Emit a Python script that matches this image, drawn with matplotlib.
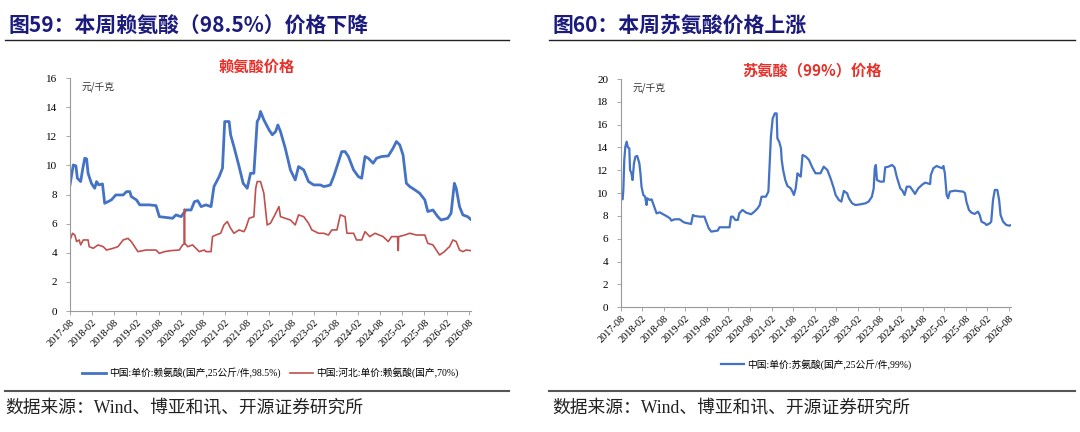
import matplotlib
matplotlib.use("Agg")
import matplotlib.pyplot as plt
from matplotlib.lines import Line2D

plt.rcParams['font.family'] = ['Noto Sans CJK SC', 'DejaVu Sans']

# x axis: months since 2017-08
tick_pos = list(range(0, 109, 6))
tick_labels = ['2017-08', '2018-02', '2018-08', '2019-02', '2019-08', '2020-02',
               '2020-08', '2021-02', '2021-08', '2022-02', '2022-08', '2023-02',
               '2023-08', '2024-02', '2024-08', '2025-02', '2025-08', '2026-02',
               '2026-08']

# 赖氨酸 98.5% (元/千克)
lys98_m = [0.0, 0.9, 1.6, 2.0, 2.9, 3.4, 4.0, 4.5, 4.9, 5.8, 6.7, 7.2, 7.8, 8.8,
           9.4, 10.3, 11.2, 12.4, 14.4, 15.3, 16.2, 16.6, 18.0, 18.9, 21.5, 23.3,
           24.2, 27.8, 28.7, 30.1, 31.4, 32.8, 33.7, 34.6, 35.5, 36.8, 38.2, 39.0,
           40.4, 41.3, 41.9, 43.1, 43.5, 44.4, 45.8, 46.9, 48.0, 48.9, 49.8, 50.7,
           51.2, 51.6, 52.5, 53.9, 54.8, 55.7, 56.3, 57.0, 58.3, 59.7, 61.0, 61.9,
           63.3, 64.6, 66.0, 67.8, 68.7, 69.6, 70.5, 71.4, 72.3, 73.6, 74.5, 75.4,
           76.8, 78.1, 79.0, 79.9, 80.8, 82.1, 83.0, 84.4, 86.2, 87.5, 88.4, 89.3,
           90.2, 91.1, 92.0, 93.4, 94.7, 96.1, 96.9, 98.3, 99.6, 100.5, 102.3,
           103.2, 104.1, 104.6, 105.5, 106.4, 107.7, 108.5]
lys98_v = [8.66, 10.03, 9.97, 9.12, 8.89, 9.69, 10.49, 10.45, 9.46, 8.77, 8.43,
           8.89, 8.66, 8.73, 7.40, 7.51, 7.63, 7.97, 7.97, 8.20, 8.20, 7.86, 7.63,
           7.29, 7.29, 7.24, 6.48, 6.37, 6.60, 6.48, 6.94, 6.94, 7.51, 7.58, 7.17,
           7.29, 7.17, 8.55, 9.23, 9.81, 13.01, 13.01, 12.10, 11.29, 9.92, 8.77,
           8.43, 9.46, 9.46, 13.01, 13.24, 13.70, 13.13, 12.44, 12.10, 12.33, 12.78,
           12.33, 11.18, 9.69, 9.00, 9.92, 9.69, 8.89, 8.66, 8.66, 8.55, 8.59, 8.66,
           9.23, 9.92, 10.95, 10.95, 10.61, 9.69, 9.23, 9.12, 10.61, 10.49, 10.15,
           10.49, 10.61, 10.65, 11.18, 11.64, 11.41, 10.72, 8.77, 8.55, 8.32, 8.09,
           7.63, 6.83, 6.94, 6.48, 6.25, 6.37, 6.71, 8.77, 8.43, 7.17, 6.60, 6.48,
           6.30]

# 赖氨酸 70% 河北 (元/千克)
lys70_m = [0.0, 0.7, 1.3, 1.8, 2.5, 2.9, 3.6, 4.9, 5.2, 6.3, 7.6, 9.0, 9.9, 11.7,
           13.0, 14.4, 15.7, 16.6, 18.4, 20.6, 23.3, 24.2, 25.6, 27.4, 29.6, 30.5,
           30.9, 31.0, 31.1, 31.9, 33.2, 34.1, 35.0, 36.4, 36.8, 38.2, 38.6, 39.5,
           40.8, 41.7, 42.6, 43.5, 44.4, 45.8, 47.1, 47.6, 48.5, 49.8, 50.3, 50.7,
           51.6, 52.5, 53.4, 54.3, 55.7, 56.6, 57.0, 58.3, 59.7, 61.0, 61.9, 63.3,
           64.6, 65.5, 67.3, 68.7, 70.0, 70.9, 72.3, 73.2, 74.5, 75.0, 76.8, 77.6,
           79.0, 79.9, 81.2, 82.6, 84.8, 86.2, 87.1, 88.7, 88.9, 89.0, 90.7, 92.0,
           93.8, 96.1, 96.9, 98.3, 99.2, 100.1, 101.4, 102.3, 102.8, 103.7, 104.6,
           105.5, 106.4, 107.3, 108.5]
lys70_v = [4.88, 5.34, 5.22, 4.77, 4.88, 4.54, 4.88, 4.88, 4.42, 4.31, 4.54, 4.42,
           4.19, 4.31, 4.42, 4.88, 4.99, 4.77, 4.08, 4.19, 4.19, 3.96, 4.08, 4.15,
           4.19, 4.54, 4.60, 7.00, 4.65, 4.42, 4.54, 4.31, 4.08, 4.19, 4.08, 4.08,
           5.11, 5.22, 5.34, 5.91, 6.14, 5.68, 5.34, 5.57, 5.45, 5.68, 6.37, 6.48,
           8.43, 8.89, 8.89, 8.09, 5.91, 6.03, 6.71, 7.17, 6.48, 6.37, 6.25, 5.91,
           6.60, 6.48, 6.03, 5.57, 5.34, 5.34, 5.22, 5.57, 5.57, 6.60, 6.48, 5.34,
           5.34, 4.88, 4.88, 5.45, 5.11, 5.34, 5.11, 4.77, 5.11, 5.11, 4.15, 5.11,
           5.22, 5.34, 5.22, 5.22, 4.65, 4.54, 4.19, 3.85, 4.08, 4.31, 4.42, 4.88,
           4.77, 4.19, 4.08, 4.19, 4.15]

# 苏氨酸 99% (元/千克)
thr_m = [0.0, 0.55, 0.74, 1.0, 1.3, 1.66, 2.0, 2.4, 2.6, 3.0, 3.3, 3.7, 4.1, 4.6,
         5.2, 5.5, 5.8, 6.3, 6.8, 7.2, 7.4, 8.1, 8.6, 9.0, 9.5, 10.0, 10.9, 11.8,
         12.7, 13.7, 14.1, 15.0, 16.4, 17.3, 17.8, 19.6, 20.1, 20.6, 22.0, 23.3,
         23.8, 24.5, 25.2, 27.0, 27.5, 30.3, 30.7, 31.2, 31.9, 32.6, 33.0, 33.9,
         34.9, 36.3, 37.2, 38.1, 38.7, 39.2, 40.4, 41.1, 41.5, 41.8, 42.3, 42.9,
         43.4, 43.6, 44.1, 44.6, 44.8, 45.2, 45.8, 46.4, 47.3, 47.8, 48.2, 48.7,
         49.2, 49.6, 50.1, 50.6, 51.5, 52.4, 53.3, 54.2, 55.6, 56.5, 57.5, 58.4,
         59.3, 59.8, 60.7, 61.4, 62.1, 63.0, 63.5, 64.4, 65.3, 66.7, 68.1, 69.0,
         69.9, 70.4, 70.7, 71.0, 71.3, 72.2, 73.2, 73.6, 74.5, 75.5, 76.2, 76.8,
         77.8, 78.4, 79.0, 79.6, 80.5, 81.5, 81.9, 82.8, 83.8, 84.7, 86.1, 86.3,
         87.0, 87.9, 88.8, 89.5, 89.8, 90.2, 90.7, 91.1, 91.6, 93.0, 95.3, 95.8,
         96.2, 96.9, 97.6, 98.5, 99.4, 99.9, 100.4, 101.3, 101.8, 102.7, 103.1,
         103.6, 104.1, 104.8, 105.3, 105.7, 106.4, 107.3, 108.2, 108.6]
thr_v = [9.55, 9.46, 10.28, 12.91, 14.07, 14.51, 14.01, 13.93, 12.03, 11.74, 11.15,
         12.61, 13.20, 13.26, 12.61, 11.74, 10.57, 9.84, 9.69, 8.96, 9.55, 9.40,
         9.46, 9.11, 8.67, 8.23, 8.32, 8.15, 8.00, 7.80, 7.59, 7.71, 7.71, 7.50,
         7.42, 7.30, 8.09, 8.00, 7.94, 7.94, 7.50, 6.92, 6.63, 6.72, 7.01, 7.01,
         7.94, 7.94, 7.65, 7.65, 8.23, 8.53, 8.29, 8.15, 8.38, 8.67, 8.96, 9.69,
         9.69, 10.13, 12.91, 14.95, 16.55, 16.99, 16.99, 14.80, 14.51, 13.93, 12.91,
         12.03, 11.15, 10.63, 10.42, 10.13, 9.84, 10.42, 11.74, 11.59, 11.45, 13.34,
         13.20, 12.91, 12.26, 11.74, 11.74, 12.32, 12.03, 11.30, 10.42, 9.84, 9.40,
         9.26, 10.19, 9.99, 9.55, 9.11, 8.96, 9.02, 9.11, 9.26, 9.69, 10.42, 12.18,
         12.47, 11.15, 11.01, 11.01, 12.26, 12.32, 12.47, 12.26, 11.45, 10.42, 10.22,
         9.84, 10.57, 10.57, 10.13, 9.93, 10.42, 10.72, 10.92, 10.80, 11.59, 12.18,
         12.38, 12.26, 12.18, 12.38, 11.74, 9.84, 9.55, 10.13, 10.22, 10.13, 9.99,
         9.26, 8.53, 8.29, 8.18, 8.38, 8.09, 7.50, 7.36, 7.21, 7.36, 7.50, 9.40,
         10.28, 10.28, 9.40, 8.09, 7.50, 7.21, 7.15, 7.21]

BLUE = '#4472C4'
RED = '#C0504D'
NAVY = '#1B1B7E'
SERIF = ['Liberation Serif', 'Noto Sans CJK SC']

fig = plt.figure(figsize=(10.8, 4.32), dpi=100)


def style_axes(ax, ymax, ystep):
    ax.set_xlim(0, 108.6)
    ax.set_ylim(0, ymax)
    ax.set_yticks(range(0, ymax + 1, ystep))
    ax.set_xticks(tick_pos)
    ax.set_xticklabels(tick_labels, rotation=45, ha='right', va='top',
                       rotation_mode='anchor', family='Liberation Serif', fontsize=7.5)
    for lab in ax.get_yticklabels():
        lab.set_family('Liberation Serif')
        lab.set_fontsize(8)
    ax.tick_params(axis='x', length=3, width=0.6, color='#999999', pad=2)
    ax.tick_params(axis='y', length=3, width=0.6, color='#999999', pad=6)
    for s in ['top', 'right']:
        ax.spines[s].set_visible(False)
    for s in ['left', 'bottom']:
        ax.spines[s].set_color('#999999')
        ax.spines[s].set_linewidth(0.8)


# left chart
ax1 = fig.add_axes([0.0648, 0.28, 0.3713, 0.5394])
ax1.plot(lys98_m, lys98_v, color=BLUE, lw=2.0, label='中国:单价:赖氨酸(国产,25公斤/件,98.5%)')
ax1.plot(lys70_m, lys70_v, color=RED, lw=1.2, label='中国:河北:单价:赖氨酸(国产,70%)')
style_axes(ax1, 16, 2)
ax1.text(0.03, 0.985, '元/千克', transform=ax1.transAxes, fontsize=7, va='top', color='#333333')
fig.text(0.238, 0.845, '赖氨酸价格', color='#E8302A', fontsize=11, fontweight='bold',
         ha='center', va='center')
ax1.legend(loc='upper center', bbox_to_anchor=(0.5, -0.205), ncol=2, frameon=False,
           handlelength=2.4, columnspacing=1.0, handletextpad=0.3,
           prop={'family': SERIF, 'size': 7})

# right chart
ax2 = fig.add_axes([0.5747, 0.2887, 0.3614, 0.5284])
ax2.plot(thr_m, thr_v, color=BLUE, lw=1.6, label='中国:单价:苏氨酸(国产,25公斤/件,99%)')
style_axes(ax2, 20, 2)
ax2.text(0.03, 0.985, '元/千克', transform=ax2.transAxes, fontsize=7, va='top', color='#333333')
fig.text(0.752, 0.836, '苏氨酸（99%）价格', color='#E8302A', fontsize=11, fontweight='bold',
         ha='center', va='center')
ax2.legend(loc='upper center', bbox_to_anchor=(0.5, -0.19), ncol=1, frameon=False,
           handlelength=2.4, handletextpad=0.3, prop={'family': SERIF, 'size': 7})

# headers and source lines
fig.text(0.008, 0.94, '图59：本周赖氨酸（98.5%）价格下降', color=NAVY, fontsize=15,
         fontweight='bold', va='center')
fig.text(0.512, 0.94, '图60：本周苏氨酸价格上涨', color=NAVY, fontsize=15,
         fontweight='bold', va='center')
for x0, x1 in [(0.005, 0.471), (0.508, 0.995)]:
    fig.add_artist(Line2D([x0, x1], [0.907, 0.907], color='#222222', lw=1.0))
    fig.add_artist(Line2D([x0, x1], [0.095, 0.095], color='#555555', lw=1.5))
fig.text(0.005, 0.055, '数据来源：Wind、博亚和讯、开源证券研究所', family=SERIF,
         fontsize=12.8, color='#222222', va='center')
fig.text(0.511, 0.055, '数据来源：Wind、博亚和讯、开源证券研究所', family=SERIF,
         fontsize=12.8, color='#222222', va='center')

fig.savefig('out.png', dpi=100)
